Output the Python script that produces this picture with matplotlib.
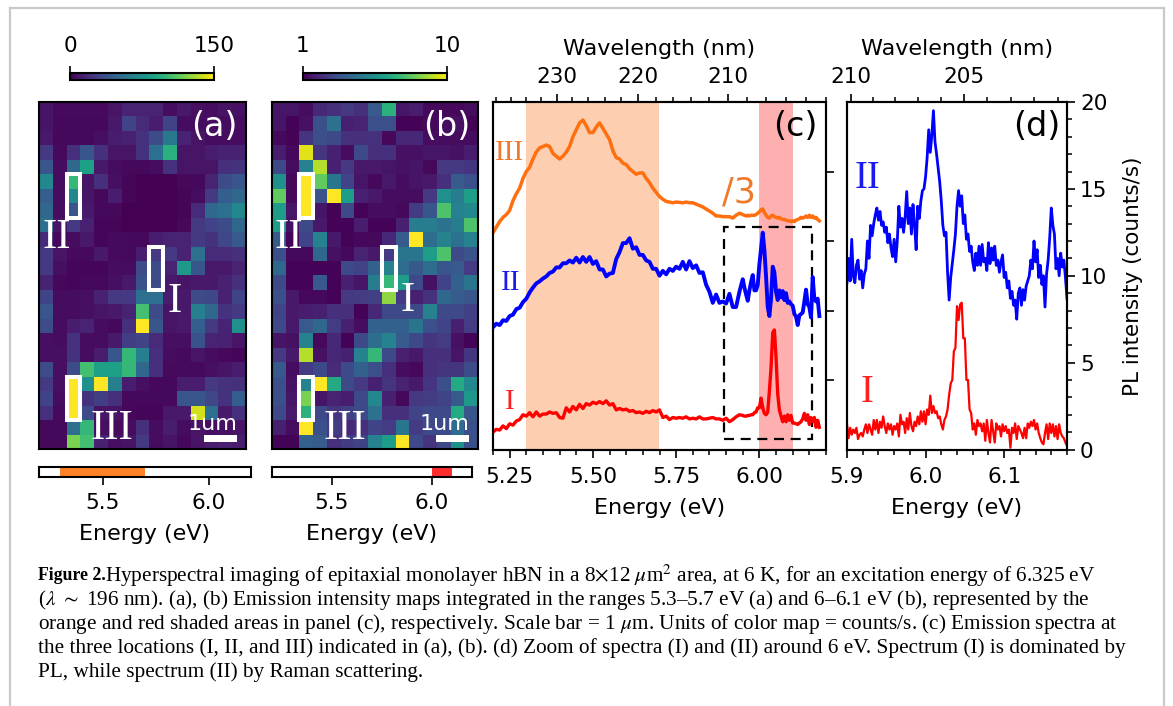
import matplotlib
matplotlib.use("Agg")
import matplotlib.pyplot as plt
from matplotlib.lines import Line2D
from matplotlib.patches import Rectangle

W, H = 1173, 706

map_a = [
    [8, 4, 4, 4, 4, 8, 15, 15, 15, 5, 10, 6, 5, 8, 7],
    [8, 3, 3, 3, 3, 10, 30, 18, 12, 30, 5, 5, 5, 5, 5],
    [10, 3, 3, 3, 6, 12, 14, 22, 35, 60, 15, 8, 5, 5, 5],
    [25, 4, 20, 40, 20, 8, 8, 22, 55, 95, 8, 8, 12, 14, 14],
    [40, 5, 50, 85, 10, 5, 3, 3, 5, 22, 8, 8, 8, 20, 22],
    [70, 5, 100, 8, 20, 6, 2, 0, 0, 0, 3, 3, 15, 35, 40],
    [45, 5, 70, 8, 3, 12, 2, 0, 0, 0, 2, 5, 25, 45, 50],
    [50, 5, 40, 10, 3, 3, 0, 0, 0, 0, 2, 18, 50, 55, 70],
    [55, 8, 25, 14, 2, 2, 0, 0, 0, 0, 3, 25, 30, 35, 50],
    [18, 4, 5, 10, 2, 4, 3, 3, 12, 15, 15, 25, 22, 32, 42],
    [25, 8, 4, 4, 10, 4, 3, 12, 25, 25, 15, 55, 18, 18, 20],
    [25, 6, 2, 2, 2, 5, 5, 35, 35, 15, 80, 40, 10, 10, 15],
    [15, 3, 2, 3, 3, 6, 10, 38, 35, 10, 8, 10, 10, 14, 20],
    [30, 5, 5, 6, 14, 25, 25, 55, 55, 12, 10, 35, 32, 14, 30],
    [40, 5, 5, 6, 8, 10, 15, 105, 35, 8, 10, 65, 50, 22, 25],
    [35, 5, 12, 15, 5, 3, 20, 150, 40, 8, 10, 45, 25, 15, 75],
    [6, 5, 22, 5, 5, 10, 28, 30, 18, 6, 6, 38, 15, 14, 8],
    [6, 6, 22, 5, 12, 40, 100, 65, 20, 5, 4, 8, 5, 3, 2],
    [35, 6, 35, 105, 85, 85, 100, 50, 20, 4, 4, 4, 6, 8, 12],
    [25, 6, 150, 75, 150, 65, 12, 6, 3, 3, 12, 12, 25, 22, 20],
    [30, 5, 150, 22, 28, 20, 3, 3, 3, 3, 40, 40, 32, 22, 45],
    [20, 4, 150, 35, 8, 8, 3, 2, 2, 10, 10, 140, 55, 10, 20],
    [3, 3, 55, 100, 6, 4, 5, 20, 5, 12, 5, 8, 6, 7, 8],
    [3, 3, 120, 105, 14, 6, 8, 25, 5, 8, 3, 8, 12, 14, 12],
]

map_b = [
    [1.5, 1.5, 1.3, 2, 2.2, 2.5, 2.2, 3.5, 6.8, 1.5, 1.7, 1.2, 1.2, 1.2, 1.3],
    [1.5, 1.1, 1.4, 3.2, 4.4, 1.8, 1.9, 3.2, 3.2, 1.1, 1.1, 1.2, 1.3, 1.4, 1.1],
    [1.2, 1.1, 2.4, 3.2, 3, 2.3, 2.2, 2.3, 1.2, 2, 2, 1.3, 1.3, 1.3, 1.3],
    [1.7, 1.2, 9.6, 2.4, 1.8, 1.3, 3, 2.2, 2.2, 1.4, 1.4, 1.5, 1.5, 1.4, 1.7],
    [3, 1.3, 5, 9, 1.8, 2.5, 1.6, 1.6, 1.5, 1.4, 1.5, 1.2, 2.5, 2.5, 2.4],
    [5.5, 1.2, 10, 7.8, 4.5, 2.8, 1.5, 1.2, 1.6, 1.3, 1.5, 1.6, 2.2, 3.6, 3.2],
    [7.8, 1.2, 10, 3.3, 10, 6, 1.8, 1.6, 1.3, 1.3, 1.3, 2.5, 5.5, 4.8, 6],
    [6, 1.5, 10, 1.5, 1.1, 3, 1.1, 1.3, 1.3, 1.2, 2.6, 3.4, 7.5, 5, 5.2],
    [6, 1.4, 3, 1.6, 1.1, 1.1, 1.7, 1.1, 1.1, 1.8, 4.8, 4.8, 4.4, 4.8, 7.5],
    [3.5, 1.1, 2.8, 5, 1.6, 1.1, 1.2, 1.2, 2, 3.6, 10, 4.2, 5, 4.4, 5],
    [3.2, 1.2, 1.2, 4, 1.4, 1.2, 1.9, 1.6, 2.5, 4.5, 4.5, 6, 7.5, 3, 3.3],
    [4, 1.1, 1.1, 1.1, 1.1, 3, 2.8, 3.8, 5, 4.2, 3.5, 4.2, 3.4, 3.5, 2.6],
    [3, 1.1, 1.1, 3.5, 1.1, 1.8, 1.5, 4.8, 7, 6, 3, 1.4, 2.8, 3.8, 4.5],
    [3.2, 1.6, 1.2, 1.2, 1.1, 2.5, 2.6, 2.7, 8.5, 2.5, 1.8, 2.3, 4, 3.6, 3.4],
    [2.8, 1.6, 1.7, 1.8, 2.2, 2.2, 1.1, 2, 3, 3, 3, 5, 3, 3, 2.7],
    [3, 1.6, 3.5, 4, 2.6, 1.8, 1.3, 3.8, 3.8, 3.8, 4.5, 3.2, 2.8, 1.8, 2.6],
    [1.5, 1.4, 5, 1.2, 2, 1.1, 3, 4.2, 5, 3.6, 3, 2.4, 2.6, 1.4, 1.1],
    [2.5, 1.6, 9, 1.4, 2, 1.8, 5, 7, 3, 1.8, 1.6, 2.2, 2.2, 1.5, 2.4],
    [3.5, 1.3, 2.5, 3, 2.1, 3, 3.8, 3.2, 2.2, 1.3, 1.2, 2.2, 2.4, 2.4, 3.1],
    [3.2, 1.4, 5, 10, 6.5, 3, 2.5, 1.8, 2.4, 1.9, 1.6, 2.4, 3.2, 6.5, 5.2],
    [3.2, 1.5, 8.2, 1.5, 1.9, 1.7, 3, 5.2, 1.8, 1.2, 2.5, 2.6, 2.8, 3.5, 5.8],
    [3, 1.6, 6.8, 3, 2.4, 2.7, 3, 4.4, 2.2, 2.2, 2.8, 3, 3, 6.5, 3.4],
    [1.8, 1.3, 10, 3.2, 2.6, 2, 2.2, 2.8, 2.6, 4.5, 2.6, 3, 3, 4.2, 3.2],
    [1.1, 1.1, 3.8, 3.6, 2.2, 2.6, 2.8, 5, 6, 10, 3, 2.4, 3, 5.5, 3.2],
]

# locations I, II, III as (first column, first row)
boxes = [(8, 10), (2, 5), (2, 19)]

c_energy = [
    5.20, 5.21, 5.22, 5.23, 5.24, 5.25, 5.26, 5.27, 5.28, 5.29,
    5.30, 5.31, 5.32, 5.33, 5.34, 5.35, 5.36, 5.37, 5.38, 5.39,
    5.40, 5.41, 5.42, 5.43, 5.44, 5.45, 5.46, 5.47, 5.48, 5.49,
    5.50, 5.51, 5.52, 5.53, 5.54, 5.55, 5.56, 5.57, 5.58, 5.59,
    5.60, 5.61, 5.62, 5.63, 5.64, 5.65, 5.66, 5.67, 5.68, 5.69,
    5.70, 5.71, 5.72, 5.73, 5.74, 5.75, 5.76, 5.77, 5.78, 5.79,
    5.80, 5.81, 5.82, 5.83, 5.84, 5.85, 5.86, 5.87, 5.88, 5.89,
    5.90, 5.91, 5.92, 5.93, 5.94, 5.95,
    5.955, 5.96, 5.965, 5.97, 5.975, 5.98, 5.985, 5.99, 5.995,
    6.00, 6.005, 6.01, 6.015, 6.02, 6.025, 6.03, 6.035, 6.04, 6.045,
    6.05, 6.055, 6.06, 6.065, 6.07, 6.075, 6.08, 6.085, 6.09, 6.095,
    6.10, 6.105, 6.11, 6.115, 6.12, 6.125, 6.13, 6.135, 6.14, 6.145,
    6.15, 6.155, 6.16, 6.165, 6.17, 6.175, 6.18,
]

c_spec3 = [
    15.6, 16.0, 16.4, 16.7, 16.9, 17.2, 17.9, 18.4, 18.8, 19.5,
    20.0, 20.3, 20.9, 21.4, 21.7, 21.8, 21.9, 21.8, 21.3, 21.1,
    20.9, 21.1, 21.4, 21.8, 22.5, 23.0, 23.5, 23.7, 23.3, 22.8,
    22.8, 23.2, 23.5, 23.1, 22.7, 22.3, 21.5, 21.0, 20.9, 20.6,
    20.5, 20.2, 20.0, 19.8, 19.9, 19.9, 19.5, 19.2, 18.8, 18.5,
    18.2, 18.0, 17.85, 17.8, 17.75, 17.8, 17.78, 17.75, 17.8, 17.75,
    17.75, 17.65, 17.55, 17.45, 17.3, 17.15, 17.0, 16.8, 16.8, 16.75,
    16.75, 16.75, 16.65, 16.85, 17.0, 16.9,
    16.85, 16.8, 16.85, 16.8, 16.85, 16.85, 16.85, 16.9, 17.0,
    17.1, 17.25, 17.3, 17.05, 16.85, 16.7, 16.65, 16.8, 16.85, 16.75,
    16.7, 16.65, 16.7, 16.6, 16.55, 16.55, 16.5, 16.45, 16.45, 16.4,
    16.45, 16.4, 16.5, 16.55, 16.6, 16.7, 16.65, 16.7, 16.8, 16.7,
    16.85, 16.7, 16.8, 16.65, 16.7, 16.55, 16.45,
]

c_spec2 = [
    8.8, 9.05, 8.95, 9.3, 9.25, 9.6, 9.7, 10.1, 10.2, 10.6,
    10.85, 11.3, 11.65, 11.95, 12.1, 12.3, 12.45, 12.7, 12.8, 13.1,
    13.1, 13.4, 13.4, 13.6, 13.45, 13.8, 13.45, 13.85, 13.5, 13.85,
    13.35, 13.55, 12.95, 12.95, 12.45, 12.65, 12.7, 13.7, 14.2, 14.85,
    14.85, 15.2, 14.45, 14.55, 14.0, 14.0, 13.6, 13.5, 13.0, 13.0,
    12.5, 12.85, 12.6, 13.0, 12.85, 13.15, 13.0, 13.5, 12.95, 13.55,
    13.05, 13.25, 12.7, 12.75, 11.85, 11.35, 10.55, 11.15, 10.55, 10.65,
    10.5, 11.2, 10.25, 10.25, 11.35, 12.25,
    11.65, 11.15, 10.7, 11.45, 12.05, 12.55, 11.45, 11.45, 11.85,
    13.35, 14.45, 15.6, 14.35, 12.45, 10.25, 9.6, 10.85, 13.15, 12.75,
    11.35, 10.75, 11.45, 10.95, 11.4, 10.75, 11.25, 10.55, 10.65, 10.45,
    10.35, 9.75, 9.55, 8.95, 9.65, 9.75, 9.85, 10.65, 11.5, 10.45,
    10.25, 9.5, 12.4, 10.85, 10.65, 10.85, 9.6,
]

c_spec1 = [
    1.25, 1.45, 1.4, 1.7, 1.5, 1.85, 1.75, 2.05, 2.15, 2.5,
    2.4, 2.65, 2.35, 2.7, 2.4, 2.55, 2.55, 2.7, 2.6, 2.65,
    2.3, 2.25, 3.0, 2.7, 3.1, 2.85, 3.25, 2.95, 3.3, 3.2,
    3.4, 3.3, 3.45, 3.3, 3.5, 3.2, 3.3, 2.85, 2.95, 2.85,
    2.9, 2.75, 2.8, 2.65, 2.7, 2.6, 2.75, 2.65, 2.8, 2.7,
    2.85, 2.3, 2.4, 2.15, 2.3, 2.25, 2.3, 2.25, 2.35, 2.2,
    2.25, 2.2, 2.35, 2.2, 2.2, 2.25, 2.3, 2.2, 2.2, 2.1,
    2.25, 2.0, 2.15, 2.35, 2.5, 2.45,
    2.4, 2.4, 2.45, 2.45, 2.5, 2.5, 2.65, 2.7, 3.0,
    3.0, 3.7, 3.0, 2.6, 2.5, 2.7, 4.2, 5.9, 8.4, 8.6,
    6.6, 4.0, 2.85, 2.4, 2.0, 2.4, 2.0, 2.5, 2.1, 2.45,
    1.9, 1.9, 1.85, 1.8, 1.9, 2.0, 2.2, 2.6, 2.1, 2.5,
    1.8, 2.3, 2.0, 2.3, 1.6, 2.1, 1.6,
]

d_energy = [
    5.900, 5.902, 5.904, 5.906, 5.908, 5.910, 5.912, 5.914, 5.916, 5.918,
    5.920, 5.922, 5.924, 5.926, 5.928, 5.930, 5.932, 5.934, 5.936, 5.938,
    5.940, 5.942, 5.944, 5.946, 5.948, 5.950, 5.952, 5.954, 5.956, 5.958,
    5.960, 5.962, 5.964, 5.966, 5.968, 5.970, 5.972, 5.974, 5.976, 5.978,
    5.980, 5.982, 5.984, 5.986, 5.988, 5.990, 5.992, 5.994, 5.996, 5.998,
    6.000, 6.002, 6.004, 6.006, 6.008, 6.010, 6.012, 6.014, 6.016, 6.018,
    6.020, 6.022, 6.024, 6.026, 6.028, 6.030, 6.032, 6.034, 6.036, 6.038,
    6.040, 6.042, 6.044, 6.046, 6.048, 6.050, 6.052, 6.054, 6.056, 6.058,
    6.060, 6.062, 6.064, 6.066, 6.068, 6.070, 6.072, 6.074, 6.076, 6.078,
    6.080, 6.082, 6.084, 6.086, 6.088, 6.090, 6.092, 6.094, 6.096, 6.098,
    6.100, 6.102, 6.104, 6.106, 6.108, 6.110, 6.112, 6.114, 6.116, 6.118,
    6.120, 6.122, 6.124, 6.126, 6.128, 6.130, 6.132, 6.134, 6.136, 6.138,
    6.140, 6.142, 6.144, 6.146, 6.148, 6.150, 6.152, 6.154, 6.156, 6.158,
    6.160, 6.162, 6.164, 6.166, 6.168, 6.170, 6.172, 6.174, 6.176, 6.178,
    6.180,
]

d_spec2 = [
    9.6, 11.0, 9.7, 12.1, 10.0, 9.6, 10.6, 10.9, 9.8, 10.3,
    9.3, 10.1, 10.4, 12.0, 11.0, 12.9, 12.3, 13.0, 13.5, 13.9,
    13.2, 13.7, 12.9, 13.1, 12.5, 12.8, 11.9, 12.4, 11.6, 11.1,
    12.1, 10.8, 12.0, 14.0, 12.8, 13.3, 12.5, 13.4, 14.85, 13.0,
    13.9, 12.4, 14.1, 12.9, 11.5, 14.0, 13.3, 14.3, 14.9, 15.0,
    15.7, 16.8, 18.4, 17.1, 18.1, 19.5, 17.7, 17.0, 16.2, 15.4,
    14.3, 12.9, 12.3, 12.5, 10.2, 8.6, 9.9, 10.7, 11.5, 12.4,
    14.0, 14.9, 14.0, 14.6, 13.0, 13.5, 12.1, 12.4, 11.4, 11.7,
    10.8, 10.3, 11.3, 10.6, 11.7, 10.6, 11.8, 10.8, 11.0, 10.3,
    11.9, 10.7, 11.6, 10.9, 11.7, 10.6, 10.9, 10.2, 10.8, 11.2,
    9.9, 10.2, 9.3, 9.7, 8.7, 9.1, 8.3, 8.6, 7.5, 9.0,
    9.3, 8.3, 9.2, 8.6, 9.4, 9.7, 10.0, 10.9, 10.4, 12.0,
    10.8, 11.5, 9.9, 10.6, 9.5, 10.0, 8.2, 10.1, 10.9, 12.2,
    13.9, 12.9, 12.4, 10.4, 11.0, 10.0, 11.3, 10.5, 10.9, 9.9,
    8.7,
]

d_spec1 = [
    1.45, 0.65, 1.25, 0.85, 1.15, 0.95, 1.25, 0.6, 0.85, 0.95,
    0.75, 1.15, 1.45, 0.95, 1.45, 1.15, 0.85, 1.7, 1.15, 1.7,
    0.95, 1.6, 1.25, 1.9, 1.35, 0.95, 1.5, 1.15, 1.45, 0.85,
    1.35, 1.15, 1.5, 0.75, 2.0, 1.45, 1.6, 0.95, 1.8, 1.15,
    2.1, 1.35, 1.05, 1.6, 1.35, 1.9, 1.45, 2.2, 1.6, 2.2,
    1.45, 2.3, 2.0, 3.1, 2.1, 2.5, 2.1, 2.2, 1.8, 1.9,
    1.45, 1.15, 1.7, 1.9, 2.3, 3.15, 3.8, 4.0, 5.65, 5.85,
    8.25, 7.45, 8.35, 8.45, 6.4, 6.4, 4.0, 4.0, 2.3, 2.1,
    1.15, 1.5, 0.85, 1.7, 1.35, 1.5, 1.05, 1.5, 0.5, 1.7,
    0.95, 0.4, 1.7, 1.05, 0.4, 1.5, 1.15, 1.35, 0.75, 1.45,
    1.05, 1.35, 0.95, 1.15, 0.1, 1.25, 0.95, 1.5, 0.6, 1.35,
    1.15, 0.95, 0.65, 1.25, 0.65, 1.5, 1.25, 1.6, 1.35, 1.7,
    1.15, 1.5, 0.95, 0.65, 0.4, 0.3, 0.95, 1.45, 0.6, 1.5,
    0.95, 1.45, 0.75, 1.35, 0.6, 1.45, 0.95, 0.75, 0.65, 0.4,
    0.2,
]

c_top_major = [230, 220, 210]
c_top_minor = [238, 236, 234, 232, 228, 226, 224, 222, 218, 216, 214, 212, 208, 206, 204, 202, 200]
d_top_major = [210, 205]
d_top_minor = [209, 208, 207, 206, 204, 203, 202, 201]

caption_first = ("Hyperspectral imaging of epitaxial monolayer hBN in a 8$\\times$12 $\\mu$m$^2$ area, "
                 "at 6 K, for an excitation energy of 6.325 eV")
caption_rest = [
    "($\\lambda$ $\\sim$ 196 nm). (a), (b) Emission intensity maps integrated in the ranges 5.3\u20135.7 eV (a) "
    "and 6\u20136.1 eV (b), represented by the",
    "orange and red shaded areas in panel (c), respectively. Scale bar = 1 $\\mu$m. Units of color map = "
    "counts/s. (c) Emission spectra at",
    "the three locations (I, II, and III) indicated in (a), (b). (d) Zoom of spectra (I) and (II) around "
    "6 eV. Spectrum (I) is dominated by",
    "PL, while spectrum (II) by Raman scattering.",
]

ORANGE = "#ff6f0f"
LABEL_ORANGE = "#ee7a2c"
plt.rcParams["font.size"] = 15.5
plt.rcParams["axes.linewidth"] = 1.5
plt.rcParams["mathtext.fontset"] = "stix"
plt.rcParams["xtick.major.size"] = 5.8
plt.rcParams["xtick.minor.size"] = 3.6
plt.rcParams["ytick.major.size"] = 5.8
plt.rcParams["ytick.minor.size"] = 3.6
plt.rcParams["xtick.major.width"] = 1.2
plt.rcParams["xtick.minor.width"] = 1.1
plt.rcParams["ytick.major.width"] = 1.2
plt.rcParams["ytick.minor.width"] = 1.1


# axes from pixel edges of the figure
def px_axes(x0, y0, x1, y1):
    return fig.add_axes([x0 / W, 1 - y1 / H, (x1 - x0) / W, (y1 - y0) / H])


def px_text(x, y, s, **kw):
    kw.setdefault("ha", "center")
    kw.setdefault("va", "center")
    fig.text(x / W, 1 - y / H, s, zorder=5, **kw)


def spec_label(x, y, s, size, color):
    px_text(x, y, s, family="Liberation Serif", fontsize=size, color=color)


def draw_map(x0, x1, values, vmin, vmax, cb_x0, cb_x1, cb_ticks):
    ax = px_axes(x0, 102, x1, 449)
    im = ax.imshow(values, cmap="viridis", vmin=vmin, vmax=vmax, aspect="auto",
                   extent=(0, 15, 24, 0), interpolation="nearest")
    ax.set_xticks([])
    ax.set_yticks([])
    for col, row in boxes:
        ax.add_patch(Rectangle((col, row), 1, 3, fill=False, edgecolor="white", linewidth=2.9))
    ax.add_patch(Rectangle((11.95, 23.03), 2.4, 0.48, color="white", linewidth=0))

    cax = px_axes(cb_x0, 73, cb_x1, 80)
    cb = fig.colorbar(im, cax=cax, orientation="horizontal", ticklocation="top")
    cb.set_ticks(cb_ticks)
    cb.ax.tick_params(length=5, width=1.2, pad=7)
    cb.ax.xaxis.set_minor_locator(matplotlib.ticker.NullLocator())
    return ax


def energy_bar(x0, x1, lo, hi, color):
    ax = px_axes(x0, 467, x1, 477)
    ax.axvspan(lo, hi, color=color, linewidth=0)
    ax.set_xlim(5.2, 6.2)
    ax.set_yticks([])
    ax.set_xticks([5.5, 6.0], ["5.5", "6.0"])
    ax.tick_params(axis="x", pad=6)
    ax.set_xlabel("Energy (eV)", fontsize=16, labelpad=8)
    return ax


fig = plt.figure(figsize=(W / 100, H / 100), dpi=100)

# page frame
for xs, ys in [((10, 10), (706, 8)), ((10, 1164), (8, 8)), ((1164, 1164), (8, 706))]:
    fig.add_artist(Line2D([x / W for x in xs], [1 - y / H for y in ys], color="#c9c9c9", linewidth=1.6))

draw_map(39, 246, map_a, 0, 150, 70, 214, [0, 150])
draw_map(272, 478, map_b, 1, 10, 303, 447, [1, 10])
energy_bar(39, 251, 5.3, 5.7, "#ff8228")
energy_bar(272, 471.5, 6.0, 6.1, "#fb2d2d")

# panel (c)
ax_c = px_axes(493, 102, 826, 449.5)
ax_c.axvspan(5.3, 5.7, color="#fdcfb0", linewidth=0)
ax_c.axvspan(6.0, 6.1, color="#feafaf", linewidth=0)
ax_c.plot(c_energy, c_spec3, color=ORANGE, linewidth=2.5)
ax_c.plot(c_energy, c_spec2, color="#0000ff", linewidth=2.8)
ax_c.plot(c_energy, c_spec1, color="#ff0000", linewidth=2.4)
ax_c.add_patch(Rectangle((5.894, 0.75), 0.263, 15.25, fill=False, edgecolor="black",
                         linewidth=1.6, linestyle=(0, (4.5, 3))))
ax_c.set_xlim(5.2, 6.2)
ax_c.set_ylim(0, 25)
ax_c.set_xticks([5.25, 5.50, 5.75, 6.00], ["5.25", "5.50", "5.75", "6.00"])
ax_c.set_xticks([5.20, 5.30, 5.35, 5.40, 5.45, 5.55, 5.60, 5.65, 5.70, 5.80, 5.85, 5.90, 5.95,
                 6.05, 6.10, 6.15, 6.20], minor=True)
ax_c.yaxis.tick_right()
ax_c.set_yticks([5, 10, 15, 20], [])
ax_c.tick_params(axis="x", pad=6.5)
ax_c.set_xlabel("Energy (eV)", fontsize=16, labelpad=8)

top_c = ax_c.twiny()
top_c.set_xlim(ax_c.get_xlim())
top_c.set_xticks([1240 / w for w in c_top_major], [str(w) for w in c_top_major])
top_c.set_xticks([1240 / w for w in c_top_minor], minor=True)
top_c.tick_params(axis="x", pad=5)
top_c.set_xlabel("Wavelength (nm)", fontsize=16, labelpad=8.5)

# panel (d)
ax_d = px_axes(847, 102, 1067, 449.5)
ax_d.plot(d_energy, d_spec2, color="#0000ff", linewidth=2.0)
ax_d.plot(d_energy, d_spec1, color="#ff0000", linewidth=1.6)
ax_d.set_xlim(5.9, 6.18)
ax_d.set_ylim(0, 20)
ax_d.set_xticks([5.9, 6.0, 6.1], ["5.9", "6.0", "6.1"])
ax_d.set_xticks([5.92, 5.94, 5.96, 5.98, 6.02, 6.04, 6.06, 6.08, 6.12, 6.14, 6.16, 6.18], minor=True)
ax_d.yaxis.tick_right()
ax_d.yaxis.set_label_position("right")
ax_d.set_yticks([0, 5, 10, 15, 20])
ax_d.set_yticks([1, 2, 3, 4, 6, 7, 8, 9, 11, 12, 13, 14, 16, 17, 18, 19], minor=True)
ax_d.tick_params(axis="x", pad=6.5)
ax_d.set_xlabel("Energy (eV)", fontsize=16, labelpad=8)
ax_d.set_ylabel("PL intensity (counts/s)", fontsize=15.5, labelpad=11)

top_d = ax_d.twiny()
top_d.set_xlim(ax_d.get_xlim())
top_d.set_xticks([1240 / w for w in d_top_major], [str(w) for w in d_top_major])
top_d.set_xticks([1240 / w for w in d_top_minor], minor=True)
top_d.tick_params(axis="x", pad=5)
top_d.set_xlabel("Wavelength (nm)", fontsize=16, labelpad=8.5)

# panel letters and labels
px_text(214, 127, "(a)", fontsize=24, color="white")
px_text(447, 127, "(b)", fontsize=24, color="white")
px_text(795, 127, "(c)", fontsize=24)
px_text(1037, 127, "(d)", fontsize=24)
px_text(739, 192, "/3", fontsize=25, color=LABEL_ORANGE)
px_text(213, 424, "1um", fontsize=16, color="white")
px_text(445, 424, "1um", fontsize=16, color="white")

spec_label(57, 238, "II", 31, "white")
spec_label(175, 302, "I", 31, "white")
spec_label(112, 429, "III", 31, "white")
spec_label(289, 238, "II", 31, "white")
spec_label(408, 301, "I", 31, "white")
spec_label(345, 429, "III", 31, "white")
spec_label(510, 153, "III", 21, LABEL_ORANGE)
spec_label(511, 283, "II", 21, "#1a1aee")
spec_label(510, 402, "I", 21, "#ff2020")
spec_label(867, 178, "II", 28, "#1a1aee")
spec_label(867, 392, "I", 28, "#ff2020")

# caption
CAPTION_SIZE = 15.3
px_text(38, 576, "Figure 2.", ha="left", family="Liberation Serif", fontweight="bold", fontsize=12.8)
px_text(105, 576, caption_first, ha="left", family="Liberation Serif", fontsize=CAPTION_SIZE)
for i, line in enumerate(caption_rest):
    px_text(38, 600 + 24 * i, line, ha="left", family="Liberation Serif", fontsize=CAPTION_SIZE)

fig.savefig("out.png", dpi=100)
